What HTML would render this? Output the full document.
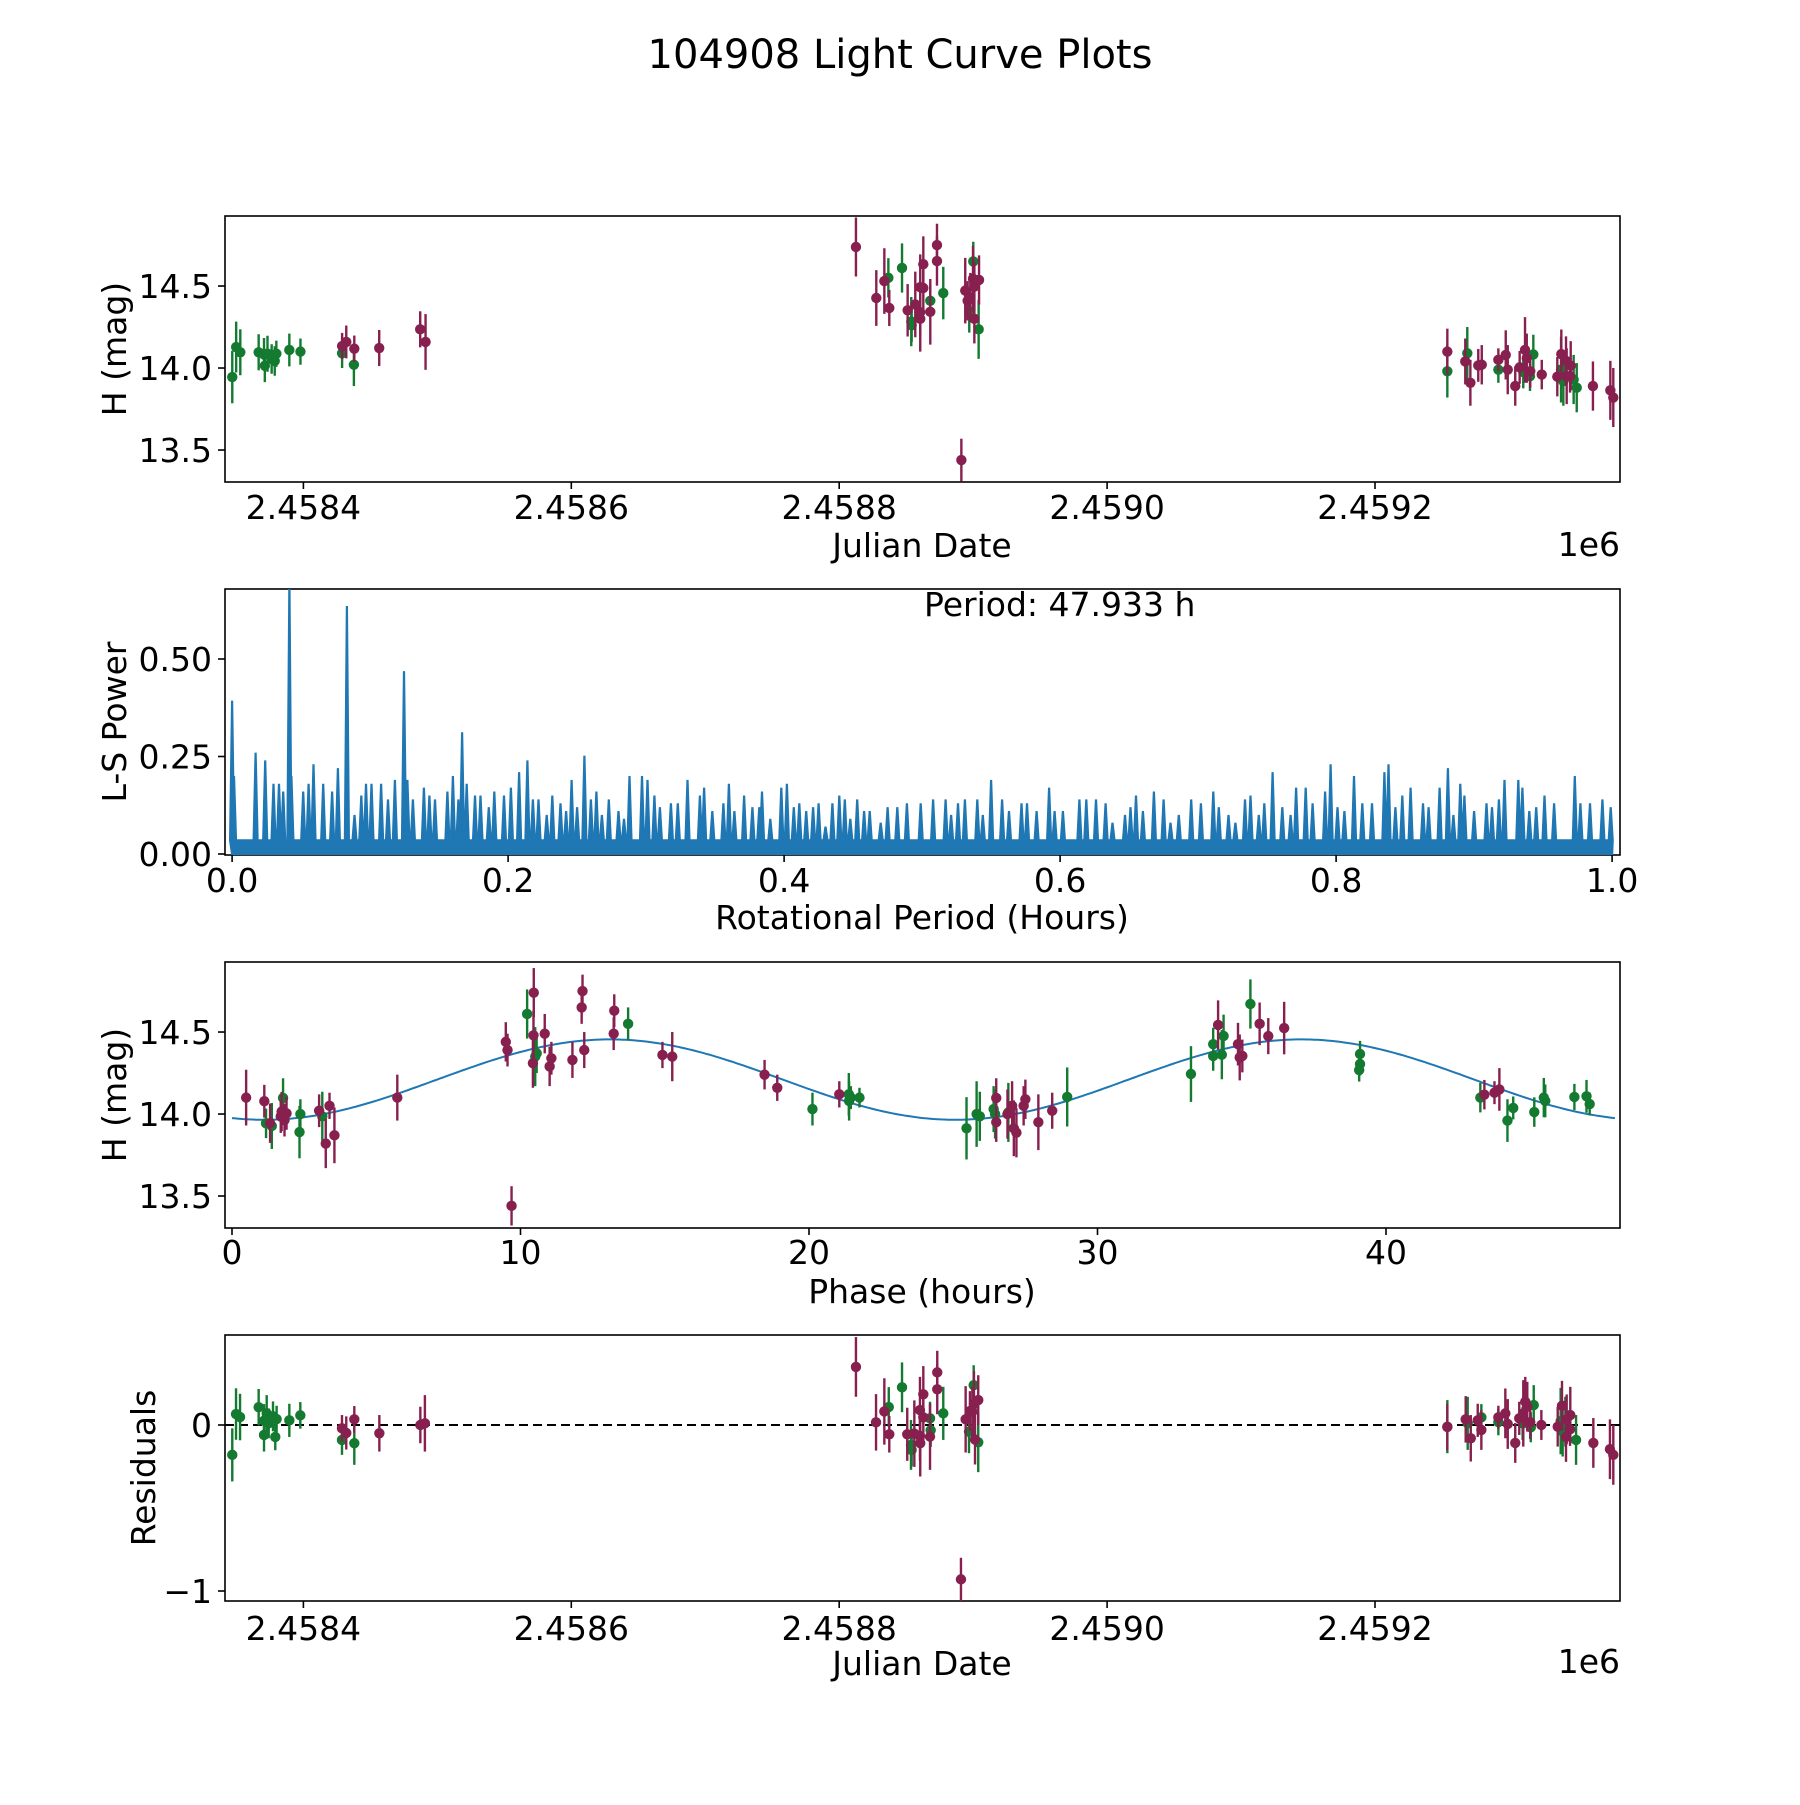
<!DOCTYPE html>
<html><head><meta charset="utf-8"><style>
html,body{margin:0;padding:0;background:#fff}
svg text{font-family:"DejaVu Sans","Liberation Sans",sans-serif;fill:#000}
</style></head><body>
<svg id="fig" xmlns="http://www.w3.org/2000/svg" width="1800" height="1800" viewBox="0 0 1800 1800">
<rect width="1800" height="1800" fill="#fff"/>
<text x="900" y="68" font-size="40" text-anchor="middle">104908 Light Curve Plots</text>
</svg>
<script>
// ---------- data: panel 1 (H vs Julian Date) ----------
const jdG = [2458346.9,2458349.8,2458352.9,2458366.6,2458370.6,2458371.2,2458373.2,2458376.3,2458378.6,2458379.8,2458389.5,2458397.8,2458428.9,2458437.7,
 2458836.7,2458846.9,2458853.8,2458854.1,2458868.0,2458877.7,2458897.1,2458900.1,2458904.1,
 2459254.0,2459268.9,2459292.1,2459310.7,2459315.7,2459318.2,2459338.9,2459340.6,2459348.3,2459350.6];
const magG = [13.945,14.128,14.096,14.096,14.083,14.014,14.087,14.055,14.043,14.087,14.11,14.10,14.09,14.02,
 14.55,14.61,14.283,14.26,14.41,14.457,14.346,14.65,14.236,
 13.98,14.09,13.99,13.976,13.95,14.083,13.99,13.92,13.93,13.88];
const errG = [0.16,0.155,0.14,0.11,0.10,0.10,0.11,0.09,0.09,0.08,0.10,0.08,0.09,0.13,
 0.12,0.15,0.15,0.10,0.10,0.16,0.13,0.12,0.18,
 0.16,0.16,0.08,0.10,0.09,0.12,0.20,0.15,0.15,0.15];
const jdR = [2458428.9,2458432.0,2458438.0,2458456.6,2458487.2,2458491.2,
 2458812.5,2458827.7,2458833.7,2458837.4,2458851.1,2458856.8,2458860.5,2458860.5,2458860.5,2458862.8,2458862.8,2458868.0,2458873.0,2458873.0,2458891.2,2458894.1,2458895.9,2458897.9,2458899.9,2458900.9,2458900.9,2458904.4,
 2459254.0,2459267.4,2459271.2,2459277.1,2459279.7,2459292.1,2459297.6,2459299.1,2459304.7,2459308.0,2459312.0,2459313.3,2459315.9,2459324.5,2459336.1,2459339.1,2459342.6,2459343.1,2459346.1,2459345.6,2459362.7,2459375.7,2459377.9];
const magR = [14.134,14.159,14.118,14.122,14.236,14.159,
 14.738,14.427,14.53,14.366,14.352,14.388,14.493,14.30,14.34,14.633,14.488,14.343,14.75,14.652,13.439,14.472,14.41,14.43,14.545,14.497,14.30,14.537,
 14.10,14.04,13.91,14.016,14.02,14.05,14.08,13.99,13.89,14.004,14.11,14.06,13.98,13.96,13.947,14.085,14.043,13.95,14.014,13.95,13.89,13.864,13.82];
const errR = [0.08,0.10,0.08,0.11,0.11,0.17,
 0.18,0.17,0.20,0.11,0.16,0.20,0.20,0.20,0.15,0.17,0.15,0.20,0.13,0.15,0.13,0.20,0.12,0.15,0.20,0.15,0.15,0.15,
 0.14,0.14,0.14,0.10,0.12,0.07,0.15,0.15,0.12,0.10,0.20,0.15,0.10,0.09,0.12,0.15,0.15,0.17,0.15,0.10,0.15,0.18,0.18];

// ---------- data: panel 2 (periodogram) ----------
const lsPeriod = [0.000,0.0014,0.017,0.024,0.030,0.034,0.037,0.0415,0.043,0.0515,0.0554,0.059,0.066,0.0725,0.0767,0.0832,0.0887,0.0936,0.097,0.101,0.108,0.113,0.118,0.1246,0.127,0.131,0.139,0.143,0.147,0.156,0.160,0.164,0.1667,0.170,0.176,0.180,0.186,0.190,0.197,0.202,0.208,0.214,0.218,0.222,0.228,0.232,0.238,0.242,0.246,0.250,0.2553,0.260,0.264,0.268,0.273,0.280,0.284,0.288,0.297,0.301,0.306,0.310,0.318,0.323,0.330,0.339,0.342,0.348,0.356,0.360,0.364,0.371,0.377,0.382,0.384,0.390,0.398,0.402,0.407,0.411,0.416,0.421,0.425,0.430,0.435,0.440,0.444,0.448,0.453,0.458,0.462,0.470,0.475,0.482,0.489,0.499,
 0.508,0.517,0.521,0.526,0.531,0.540,0.544,0.550,0.558,0.563,0.572,0.576,0.583,0.592,0.596,0.602,0.614,0.619,0.626,0.633,0.638,0.647,0.651,0.655,0.660,0.668,0.675,0.680,0.686,0.695,0.702,0.711,0.715,0.722,0.727,0.734,0.738,0.744,0.748,0.754,0.761,0.767,0.771,0.778,0.783,0.792,0.796,0.801,0.806,0.813,0.819,0.826,0.835,0.838,0.843,0.848,0.854,0.863,0.867,0.875,0.881,0.885,0.890,0.893,0.900,0.909,0.913,0.918,0.922,0.932,0.935,0.940,0.945,0.951,0.958,0.973,0.977,0.984,0.993,0.999];
const lsPower = [0.393,0.20,0.26,0.24,0.18,0.18,0.16,0.70,0.20,0.16,0.18,0.23,0.18,0.16,0.22,0.636,0.10,0.15,0.18,0.18,0.18,0.14,0.19,0.469,0.19,0.14,0.17,0.15,0.14,0.16,0.20,0.14,0.312,0.18,0.15,0.15,0.12,0.16,0.15,0.17,0.21,0.24,0.14,0.14,0.10,0.15,0.13,0.11,0.19,0.12,0.252,0.14,0.16,0.10,0.14,0.11,0.09,0.20,0.20,0.19,0.15,0.12,0.13,0.13,0.19,0.15,0.17,0.11,0.13,0.18,0.11,0.15,0.12,0.12,0.16,0.09,0.17,0.18,0.12,0.13,0.11,0.12,0.13,0.07,0.13,0.15,0.14,0.09,0.14,0.11,0.11,0.08,0.12,0.12,0.13,0.13,
 0.14,0.14,0.10,0.13,0.14,0.14,0.10,0.19,0.14,0.11,0.13,0.13,0.11,0.17,0.11,0.11,0.14,0.14,0.14,0.13,0.08,0.10,0.12,0.15,0.11,0.16,0.14,0.08,0.10,0.14,0.13,0.16,0.12,0.10,0.08,0.14,0.15,0.10,0.13,0.21,0.12,0.10,0.17,0.17,0.13,0.16,0.23,0.12,0.11,0.20,0.13,0.13,0.21,0.23,0.12,0.15,0.17,0.13,0.12,0.17,0.22,0.10,0.18,0.15,0.11,0.13,0.12,0.14,0.19,0.19,0.17,0.11,0.12,0.15,0.13,0.20,0.13,0.13,0.14,0.12];
const lsFloor = 0.035;

// ---------- data: panel 3 (phase-folded) ----------
const phG = [1.18,1.38,1.77,2.34,2.37,3.13,10.23,10.51,10.56,13.73,20.12,21.38,21.39,21.45,21.75,
 25.46,25.81,25.92,26.40,26.45,26.91,28.95,33.24,34.01,34.01,34.31,34.37,35.30,39.10,39.10,39.07,43.27,44.21,44.41,45.14,45.47,45.52,46.53,46.95,47.06];
const phMagG = [13.943,13.927,14.098,13.89,14.0,13.986,14.61,14.35,14.37,14.55,14.03,14.12,14.08,14.10,14.10,
 13.913,14.0,13.986,14.03,14.0,14.01,14.104,14.244,14.426,14.354,14.362,14.476,14.671,14.366,14.305,14.268,14.10,13.96,14.037,14.012,14.10,14.08,14.104,14.108,14.061];
const phErrG = [0.09,0.14,0.12,0.16,0.09,0.15,0.15,0.18,0.12,0.10,0.10,0.13,0.12,0.07,0.06,
 0.19,0.20,0.15,0.14,0.15,0.18,0.18,0.17,0.10,0.09,0.15,0.13,0.15,0.08,0.07,0.07,0.09,0.13,0.07,0.09,0.12,0.10,0.08,0.10,0.07];
const phR = [0.49,1.12,1.32,1.72,1.69,1.82,1.89,3.02,3.25,3.38,3.55,5.73,9.49,9.55,9.69,10.45,10.46,10.43,10.84,11.01,11.07,11.80,12.12,12.15,12.21,13.23,13.25,14.92,15.26,18.46,18.90,21.05,
 26.49,26.49,26.88,27.04,27.10,27.19,27.44,27.50,27.95,28.43,34.18,34.87,34.93,35.02,35.62,35.92,36.47,43.41,43.76,43.93];
const phMagR = [14.10,14.078,13.944,14.015,13.985,13.963,14.004,14.02,13.82,14.05,13.87,14.10,14.44,14.39,13.44,14.48,14.74,14.31,14.49,14.29,14.34,14.33,14.65,14.75,14.39,14.49,14.63,14.36,14.35,14.24,14.16,14.12,
 14.098,13.95,14.0,14.05,13.913,13.886,14.05,14.09,13.95,14.02,14.543,14.426,14.345,14.354,14.55,14.475,14.524,14.118,14.13,14.15];
const phErrR = [0.17,0.10,0.12,0.12,0.10,0.10,0.10,0.10,0.15,0.08,0.17,0.14,0.12,0.10,0.12,0.15,0.15,0.15,0.12,0.12,0.10,0.11,0.10,0.10,0.11,0.10,0.10,0.08,0.15,0.09,0.08,0.08,
 0.12,0.12,0.15,0.15,0.17,0.15,0.12,0.12,0.17,0.11,0.15,0.13,0.14,0.10,0.13,0.11,0.16,0.09,0.07,0.13];
const modelMean = 14.21, modelAmp = 0.245, modelPeak = 13.1, modelHalfPeriod = 23.9665, foldPeriod = 47.933;

// ---------- data: panel 4 (residuals) ----------
const resJdG = [2458346.9,2458349.7,2458352.7,2458366.6,2458370.6,2458370.6,2458372.6,2458374.1,2458377.3,2458379.0,2458380.0,2458389.5,2458397.7,2458428.8,2458438.0,
 2458837.0,2458846.9,2458853.6,2458854.1,2458867.8,2458868.3,2458877.7,2458896.9,2458900.4,2458903.8,
 2459254.0,2459269.2,2459279.4,2459292.1,2459310.2,2459316.3,2459318.5,2459338.6,2459340.1,2459342.1,2459350.1];
const resG = [-0.18,0.066,0.048,0.107,0.026,-0.06,0.07,0.01,0.052,-0.072,0.036,0.028,0.058,-0.09,-0.11,
 0.108,0.227,-0.12,-0.15,0.04,-0.032,0.07,-0.04,0.24,-0.104,
 -0.01,0.01,0.046,0.018,0.01,-0.014,0.12,0.024,-0.04,0.02,-0.09];
const resErrG = [0.16,0.155,0.14,0.11,0.10,0.10,0.11,0.09,0.09,0.08,0.08,0.10,0.08,0.09,0.13,
 0.12,0.15,0.15,0.10,0.10,0.10,0.16,0.13,0.12,0.18,
 0.16,0.16,0.08,0.08,0.10,0.09,0.12,0.20,0.15,0.15,0.15];
const resJdR = [2458428.8,2458432.0,2458438.0,2458456.7,2458487.3,2458490.7,
 2458812.5,2458827.5,2458833.7,2458837.4,2458850.8,2458856.1,2458860.3,2458860.5,2458860.3,2458862.8,2458862.8,2458867.8,2458873.2,2458873.2,2458890.9,2458894.4,2458897.6,2458901.4,2458900.6,2458903.8,2458899.4,
 2459254.0,2459267.7,2459271.5,2459276.7,2459279.4,2459292.1,2459297.3,2459299.1,2459304.7,2459307.7,2459310.7,2459312.2,2459313.7,2459315.9,2459324.2,2459336.4,2459339.6,2459343.1,2459345.8,2459342.6,2459345.6,2459363.0,2459375.4,2459377.9];
const resR = [-0.02,-0.048,0.034,-0.05,0.0,0.01,
 0.35,0.016,0.082,-0.056,-0.056,-0.052,0.09,-0.11,-0.066,0.185,0.046,-0.07,0.317,0.215,-0.93,0.034,0.084,-0.088,0.125,0.15,0.08,
 -0.012,0.034,-0.08,0.028,-0.03,0.046,0.07,0.006,-0.108,0.04,0.07,0.14,0.11,0.016,0.0,-0.01,0.116,0.034,0.06,-0.072,-0.026,-0.108,-0.146,-0.18];
const resErrR = [0.08,0.10,0.08,0.11,0.11,0.17,
 0.18,0.17,0.20,0.11,0.16,0.20,0.20,0.20,0.15,0.17,0.15,0.20,0.13,0.15,0.13,0.20,0.12,0.15,0.20,0.15,0.15,
 0.14,0.14,0.14,0.10,0.12,0.07,0.15,0.15,0.12,0.10,0.20,0.15,0.15,0.10,0.09,0.12,0.15,0.15,0.17,0.15,0.10,0.15,0.18,0.18];

const jdTicks = [2458400,2458600,2458800,2459000,2459200];
const jdTickLabels = ["2.4584","2.4586","2.4588","2.4590","2.4592"];
const magTicks = [13.5,14.0,14.5];
const magTickLabels = ["13.5","14.0","14.5"];
const lsXTicks = [0,0.2,0.4,0.6,0.8,1.0];
const lsXTickLabels = ["0.0","0.2","0.4","0.6","0.8","1.0"];
const lsYTicks = [0,0.25,0.5];
const lsYTickLabels = ["0.00","0.25","0.50"];
const phTicks = [0,10,20,30,40];
const phTickLabels = ["0","10","20","30","40"];
const resTicks = [0,-1];
const resTickLabels = ["0","\u22121"];

// ---------- rendering ----------
const NS = "http://www.w3.org/2000/svg";
const svg = document.getElementById("fig");
const GREEN = "#137a30", MAG = "#87204f", BLUE = "#1f77b4";
const L = 225, R = 1620;
function mk(tag, attrs, parent) {
  const e = document.createElementNS(NS, tag);
  for (const k in attrs) e.setAttribute(k, attrs[k]);
  (parent || svg).appendChild(e);
  return e;
}
function lin(d0, d1, p0, p1) { return v => p0 + (v - d0) * (p1 - p0) / (d1 - d0); }

const jdX = lin(2458400, 2458600, 303.4, 571.3);
const magY1 = lin(14.927, 13.305, 216, 482);
const lsX = lin(0, 1, 232.1, 1612.1);
const lsY = lin(0, 0.5, 854, 659);
const phX = lin(0, 40, 232, 1386);
const magY3 = lin(14.927, 13.305, 962, 1228);
const resY = lin(0, -1, 1425, 1591);

function axes(name, top, bottom) {
  const g = mk("g", {});
  
  
  const r = mk("rect", {x: L, y: top, width: R - L, height: bottom - top, fill: "none", stroke: "#000", "stroke-width": 1.6}, g);
  
  
  return g;
}
function xTicks(g, vals, labels, fx, bottom, baseY, name) {
  vals.forEach((v, i) => {
    const x = fx(v);
    mk("line", {x1: x, x2: x, y1: bottom, y2: bottom + 7, stroke: "#000", "stroke-width": 1.6}, g);
    const t = mk("text", {x: x, y: baseY, "font-size": 33, "text-anchor": "middle"}, g);
    
    
    t.textContent = labels[i];
  });
}
function yTicks(g, vals, labels, fy, name) {
  vals.forEach((v, i) => {
    const y = fy(v);
    mk("line", {x1: L - 7, x2: L, y1: y, y2: y, stroke: "#000", "stroke-width": 1.6}, g);
    const t = mk("text", {x: L - 13, y: y + 12, "font-size": 33, "text-anchor": "end"}, g);
    
    
    t.textContent = labels[i];
  });
}
function label(g, txt, x, y, rot, name, anchor) {
  const t = mk("text", {x: x, y: y, "font-size": 33, "text-anchor": anchor || "middle"}, g);
  if (rot) t.setAttribute("transform", "rotate(-90 " + x + " " + y + ")");
  
  
  t.textContent = txt;
}
function errSeries(g, xs, ys, es, fx, fy, color, name, clipId) {
  const s = mk("g", {"clip-path": "url(#" + clipId + ")"}, g);
  
  
  xs.forEach((xv, i) => {
    const x = fx(xv);
    const b = mk("line", {x1: x, x2: x, y1: fy(ys[i] + es[i]), y2: fy(ys[i] - es[i]), stroke: color, "stroke-width": 2.4}, s);
    
    
    const c = mk("circle", {cx: x, cy: fy(ys[i]), r: 5.2, fill: color}, s);
    
    
  });
}
const defs = mk("defs", {});
[["c1",216,482],["c2",589,855],["c3",962,1228],["c4",1335,1601]].forEach(c => {
  const cp = mk("clipPath", {id: c[0]}, defs);
  mk("rect", {x: L, y: c[1], width: R - L, height: c[2] - c[1]}, cp);
});

// Panel 1
const g1 = axes("lightcurve-panel", 216, 482);
errSeries(g1, jdG, magG, errG, jdX, magY1, GREEN, "series-green", "c1");
errSeries(g1, jdR, magR, errR, jdX, magY1, MAG, "series-magenta", "c1");
xTicks(g1, jdTicks, jdTickLabels, jdX, 482, 519, "jd");
yTicks(g1, magTicks, magTickLabels, magY1, "mag");
label(g1, "Julian Date", 922, 557, false, "x-axis-title");
label(g1, "1e6", 1620, 556, false, "x-axis-offset", "end");
label(g1, "H (mag)", 126, 349, true, "y-axis-title");

// Panel 2
const g2 = axes("periodogram-panel", 589, 855);
{
  const pts = [[lsX(0), lsY(0)]];
  lsPeriod.forEach((p, i) => {
    const x = lsX(p);
    pts.push([x - 2, lsY(lsFloor)]);
    pts.push([x, lsY(lsPower[i])]);
    pts.push([x + 2, lsY(lsFloor)]);
  });
  pts.push([lsX(1), lsY(0)]);
  const pg = mk("polygon", {points: pts.map(p => p[0].toFixed(1) + "," + p[1].toFixed(1)).join(" "), fill: BLUE, stroke: BLUE, "stroke-width": 2.2, "stroke-linejoin": "miter", "clip-path": "url(#c2)"}, g2);
  
  
}
xTicks(g2, lsXTicks, lsXTickLabels, lsX, 855, 892, "period");
yTicks(g2, lsYTicks, lsYTickLabels, lsY, "power");
label(g2, "Rotational Period (Hours)", 922, 929, false, "x-axis-title");
label(g2, "L-S Power", 126, 722, true, "y-axis-title");
label(g2, "Period: 47.933 h", 924, 616, false, "period-annotation", "start");

// Panel 3
const g3 = axes("phase-panel", 962, 1228);
{
  const pts = [];
  for (let i = 0; i <= 400; i++) {
    const ph = foldPeriod * i / 400;
    const m = modelMean + modelAmp * Math.cos(2 * Math.PI * (ph - modelPeak) / modelHalfPeriod);
    pts.push(phX(ph).toFixed(1) + "," + magY3(m).toFixed(1));
  }
  const pl = mk("polyline", {points: pts.join(" "), fill: "none", stroke: BLUE, "stroke-width": 2}, g3);
  
  
}
errSeries(g3, phG, phMagG, phErrG, phX, magY3, GREEN, "phase-series-green", "c3");
errSeries(g3, phR, phMagR, phErrR, phX, magY3, MAG, "phase-series-magenta", "c3");
xTicks(g3, phTicks, phTickLabels, phX, 1228, 1264, "phase");
yTicks(g3, magTicks, magTickLabels, magY3, "mag");
label(g3, "Phase (hours)", 922, 1303, false, "x-axis-title");
label(g3, "H (mag)", 126, 1095, true, "y-axis-title");

// Panel 4
const g4 = axes("residuals-panel", 1335, 1601);
{
  const z = mk("line", {x1: L, x2: R, y1: resY(0), y2: resY(0), stroke: "#000", "stroke-width": 2, "stroke-dasharray": "9,5"}, g4);
  
  
}
errSeries(g4, resJdG, resG, resErrG, jdX, resY, GREEN, "residual-series-green", "c4");
errSeries(g4, resJdR, resR, resErrR, jdX, resY, MAG, "residual-series-magenta", "c4");
xTicks(g4, jdTicks, jdTickLabels, jdX, 1601, 1640, "jd");
yTicks(g4, resTicks, resTickLabels, resY, "residual");
label(g4, "Julian Date", 922, 1675, false, "x-axis-title");
label(g4, "1e6", 1620, 1673, false, "x-axis-offset", "end");
label(g4, "Residuals", 155, 1468, true, "y-axis-title");
</script>
</body></html>
